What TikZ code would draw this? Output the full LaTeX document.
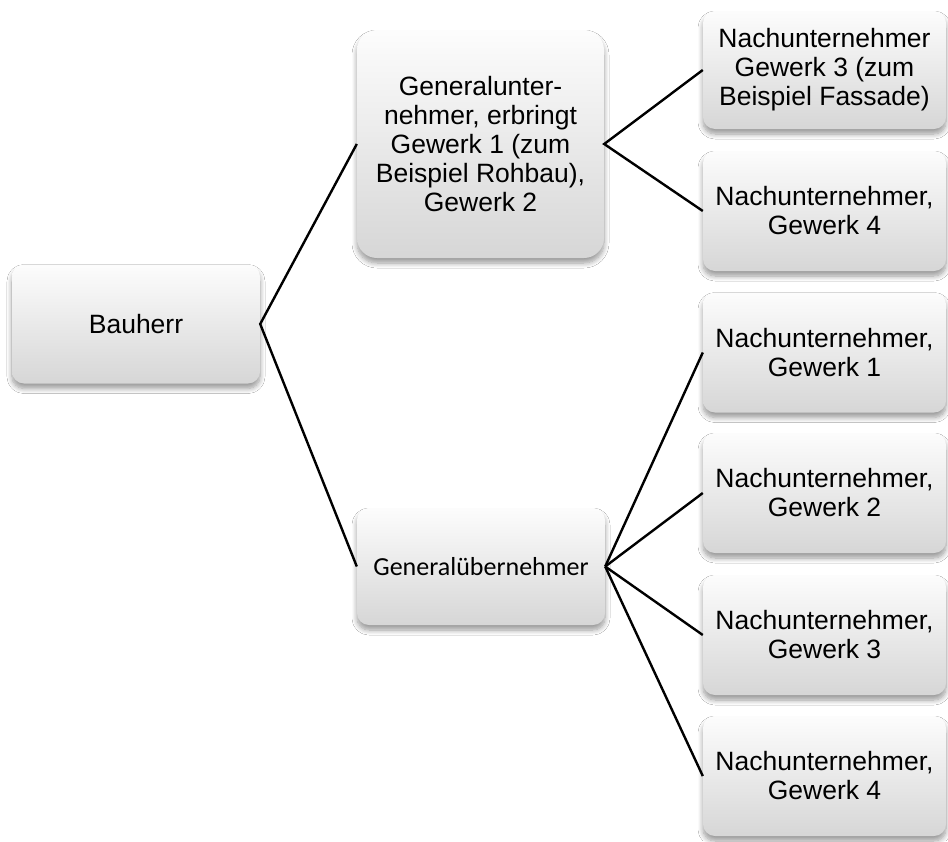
\documentclass[tikz,border=0pt]{standalone}
\usepackage{fontspec}
\setmainfont{Liberation Sans}
\newfontfamily\calibrifont{Carlito}
\usetikzlibrary{shadows.blur}
\tikzset{
  box/.style={rectangle, rounded corners=12pt, draw=none,
    top color=gray!2, bottom color=gray!32,
    blur shadow={shadow xshift=0pt, shadow yshift=-5pt, shadow blur steps=8, shadow blur radius=5pt, shadow opacity=40},
    align=center, font=\fontsize{26.5}{29}\selectfont, inner sep=0pt},
  conn/.style={line width=2.4pt, black, line join=miter}
}
\begin{document}
\begin{tikzpicture}[x=1pt,y=-1pt]
\useasboundingbox[fill=white] (0,0) rectangle (948,841);
\node[box, minimum width=248pt, minimum height=119pt] (bh) at (136,324) {Bauherr};
\node[box, rounded corners=20pt, minimum width=247pt, minimum height=228pt] (gu) at (480.5,144) {Generalunter-\\nehmer, erbringt\\Gewerk 1 (zum\\Beispiel Rohbau),\\Gewerk 2};
\node[box, minimum width=248pt, minimum height=117pt, font=\calibrifont\fontsize{26}{29}\selectfont] (gue) at (481,566.5) {Generalübernehmer};
\node[box, minimum width=243pt, minimum height=118pt] (a3) at (824.5,70) {Nachunternehmer\\Gewerk 3 (zum\\Beispiel Fassade)};
\node[box, minimum width=243pt, minimum height=120pt] (a4) at (824.5,211) {Nachunternehmer,\\Gewerk 4};
\node[box, minimum width=243pt, minimum height=120pt] (b1) at (824.5,352.5) {Nachunternehmer,\\Gewerk 1};
\node[box, minimum width=243pt, minimum height=120pt] (b2) at (824.5,493) {Nachunternehmer,\\Gewerk 2};
\node[box, minimum width=243pt, minimum height=120pt] (b3) at (824.5,635) {Nachunternehmer,\\Gewerk 3};
\node[box, minimum width=243pt, minimum height=120pt] (b4) at (824.5,776) {Nachunternehmer,\\Gewerk 4};
\draw[conn] (gu.west) -- (bh.east) -- (gue.west);
\draw[conn] (a3.west) -- (gu.east) -- (a4.west);
\draw[conn] (gue.east) -- (b1.west);
\draw[conn] (gue.east) -- (b2.west);
\draw[conn] (gue.east) -- (b3.west);
\draw[conn] (gue.east) -- (b4.west);
\end{tikzpicture}
\end{document}
